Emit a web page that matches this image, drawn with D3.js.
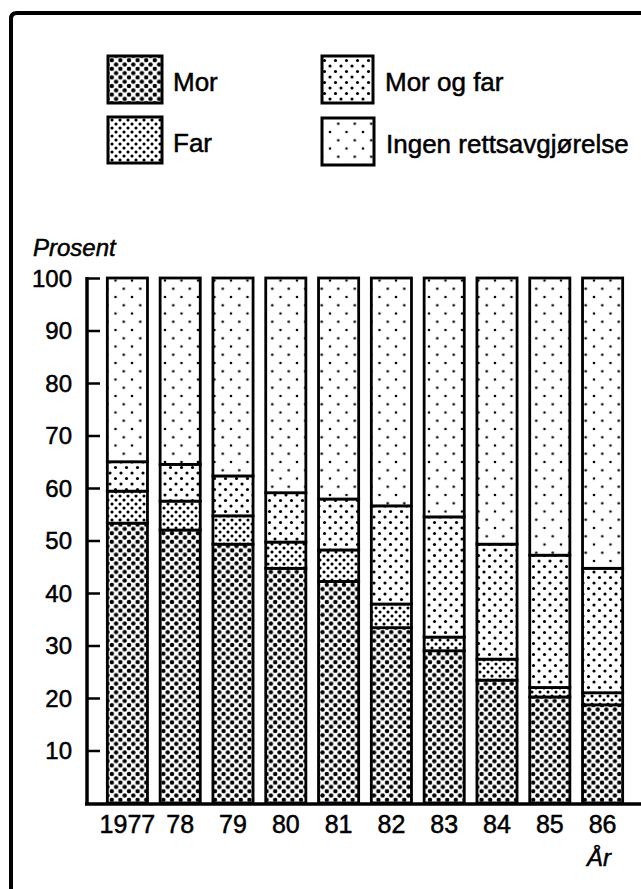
<!DOCTYPE html>
<html>
<head>
<meta charset="utf-8">
<script src="https://cdn.jsdelivr.net/npm/d3@7"></script>
<style>
  body { margin: 0; background: #fff; }
  svg text { font-family: "Liberation Sans", Arial, sans-serif; fill: #000; stroke: #000; stroke-width: 0.5px; }
</style>
</head>
<body>
<div id="chart"></div>
<script>
const years = ["1977", "78", "79", "80", "81", "82", "83", "84", "85", "86"];
const mor = [53.3, 52.0, 49.3, 44.7, 42.2, 33.4, 29.0, 23.4, 20.2, 18.7];
const far = [6.1, 5.5, 5.4, 5.0, 6.0, 4.5, 2.6, 4.0, 1.8, 2.3];
const morOgFar = [5.6, 7.0, 7.6, 9.4, 9.7, 18.7, 22.9, 21.9, 25.2, 23.7];
const ingen = [35.0, 35.5, 37.7, 40.9, 42.1, 43.4, 45.5, 50.7, 52.8, 55.3];
const seriesNames = ["Mor", "Far", "Mor og far", "Ingen rettsavgjørelse"];
const yTicks = [10, 20, 30, 40, 50, 60, 70, 80, 90, 100];

const width = 641, height = 889;
const svg = d3.select("#chart").append("svg")
    .attr("width", width)
    .attr("height", height);

// dot patterns, one per series
const defs = svg.append("defs");
const patterns = [
    { id: "p-mor", size: 8.6, r: 2.2 },
    { id: "p-far", size: 8, r: 1.55 },
    { id: "p-mof", size: 11, r: 1.55 },
    { id: "p-ingen", size: 16.5, r: 1.3 }
];
patterns.forEach(p => {
    const pat = defs.append("pattern")
        .attr("id", p.id)
        .attr("patternUnits", "userSpaceOnUse")
        .attr("width", p.size)
        .attr("height", p.size);
    pat.append("rect").attr("width", p.size).attr("height", p.size).attr("fill", "#fff");
    [[0, 0], [p.size, 0], [0, p.size], [p.size, p.size], [p.size / 2, p.size / 2]].forEach(c => {
        pat.append("circle").attr("cx", c[0]).attr("cy", c[1]).attr("r", p.r).attr("fill", "#000");
    });
});

// frame
svg.append("path")
    .attr("d", "M11,889 L11,19 Q11,13 17,13 L641,13")
    .attr("fill", "none")
    .attr("stroke", "#000")
    .attr("stroke-width", 4);

const x = d3.scaleBand()
    .domain(years)
    .range([101, 629])
    .paddingInner(0.24)
    .paddingOuter(0.12);

const y = d3.scaleLinear()
    .domain([0, 100])
    .range([803, 278]);

const table = years.map((yr, i) => ({ year: yr, mor: mor[i], far: far[i], mof: morOgFar[i], ingen: ingen[i] }));
const keys = ["mor", "far", "mof", "ingen"];
const stacked = d3.stack().keys(keys)(table);

const g = svg.append("g");
g.selectAll("g.layer")
    .data(stacked)
    .join("g")
    .attr("class", "layer")
    .attr("fill", (d, i) => `url(#${patterns[i].id})`)
    .selectAll("rect")
    .data(d => d)
    .join("rect")
    .attr("x", d => x(d.data.year))
    .attr("width", x.bandwidth())
    .attr("y", d => y(d[1]))
    .attr("height", d => y(d[0]) - y(d[1]))
    .attr("stroke", "#000")
    .attr("stroke-width", 2.8);

// y axis
const yAxis = svg.append("g")
    .attr("transform", "translate(87,0)")
    .call(d3.axisRight(y).tickValues(yTicks).tickSize(13).tickFormat(""));
yAxis.select(".domain").remove();
yAxis.selectAll(".tick line").attr("stroke", "#000").attr("stroke-width", 2.5);
svg.append("line")
    .attr("x1", 87).attr("x2", 87)
    .attr("y1", y(100) - 1).attr("y2", y(0) + 2)
    .attr("stroke", "#000").attr("stroke-width", 3.5);

svg.append("g").selectAll("text")
    .data(yTicks)
    .join("text")
    .attr("x", 72)
    .attr("y", d => y(d) + 8.5)
    .attr("text-anchor", "end")
    .attr("font-size", 24)
    .text(d => d);

// x axis
svg.append("line")
    .attr("x1", 85).attr("x2", 641)
    .attr("y1", 804).attr("y2", 804)
    .attr("stroke", "#000").attr("stroke-width", 3.5);

svg.append("g").selectAll("text")
    .data(years)
    .join("text")
    .attr("x", d => x(d) + x.bandwidth() / 2)
    .attr("y", 833)
    .attr("text-anchor", "middle")
    .attr("font-size", 25)
    .text(d => d);

svg.append("text")
    .attr("x", 33).attr("y", 256)
    .attr("font-size", 24)
    .attr("font-style", "italic")
    .text("Prosent");

svg.append("text")
    .attr("x", 587).attr("y", 866)
    .attr("font-size", 24)
    .attr("font-style", "italic")
    .text("År");

// legend
const legendPos = [
    { x: 108, y: 56, w: 54, h: 47 },
    { x: 108, y: 117, w: 54, h: 46 },
    { x: 322, y: 56, w: 51, h: 47 },
    { x: 322, y: 118, w: 52, h: 47 }
];
const legend = svg.append("g").selectAll("g")
    .data(seriesNames)
    .join("g");
legend.append("rect")
    .attr("x", (d, i) => legendPos[i].x)
    .attr("y", (d, i) => legendPos[i].y)
    .attr("width", (d, i) => legendPos[i].w)
    .attr("height", (d, i) => legendPos[i].h)
    .attr("fill", (d, i) => `url(#${patterns[i].id})`)
    .attr("stroke", "#000")
    .attr("stroke-width", 3);
legend.append("text")
    .attr("x", (d, i) => legendPos[i].x + legendPos[i].w + (i < 2 ? 11 : 12))
    .attr("y", (d, i) => legendPos[i].y + 35)
    .attr("font-size", 26)
    .text(d => d);
</script>
</body>
</html>
